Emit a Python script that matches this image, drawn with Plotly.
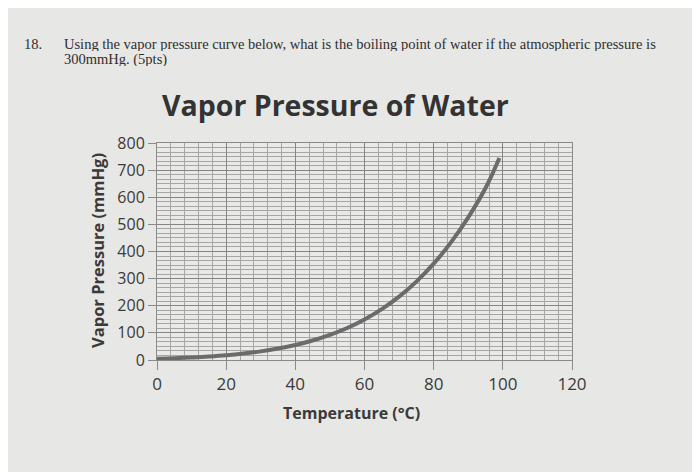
import plotly.graph_objects as go

# values
temps_c = [0, 5, 10, 15, 20, 25, 30, 35, 40, 45, 50, 55, 60, 65, 70, 75, 80, 85, 90, 95, 99]
pressure_mmhg = [4.6, 6.5, 9.2, 12.8, 17.5, 23.8, 31.8, 42.2, 55.3, 71.9, 92.5, 118.0,
                 149.4, 187.5, 233.7, 289.1, 355.1, 433.6, 525.8, 633.9, 745.0]

x_ticks = [0, 20, 40, 60, 80, 100, 120]
y_ticks = [0, 100, 200, 300, 400, 500, 600, 700, 800]

question_num = "18."
question_lines = [
    "Using the vapor pressure curve below, what is the boiling point of water if the atmospheric pressure is",
    "300mmHg. (5pts)",
]

bg = "#e7e7e5"
ink = "#3a3a3a"
sans = "Open Sans, Liberation Sans, Arial, sans-serif"

fig = go.Figure()
fig.add_trace(go.Scatter(
    x=temps_c, y=pressure_mmhg, mode="lines",
    line=dict(color="#6b6b6b", width=4, shape="spline"),
    hoverinfo="skip", showlegend=False,
))

fig.update_xaxes(
    range=[0, 120], tickvals=x_ticks,
    tickfont=dict(family=sans, size=17, color=ink),
    showgrid=True, gridcolor="#858585", gridwidth=1,
    minor=dict(dtick=4, showgrid=True, gridcolor="#a6a6a6", gridwidth=1),
    showline=True, linecolor="#8a8a8a", linewidth=1, mirror=True,
    ticks="outside", ticklen=9, tickcolor="#8a8a8a", zeroline=False,
)
fig.update_yaxes(
    range=[0, 800], tickvals=y_ticks,
    tickfont=dict(family=sans, size=16, color=ink),
    showgrid=True, gridcolor="#858585", gridwidth=1,
    minor=dict(dtick=100 / 6, showgrid=True, gridcolor="#a6a6a6", gridwidth=1),
    showline=True, linecolor="#8a8a8a", linewidth=1, mirror=True,
    ticks="outside", ticklen=8, tickcolor="#8a8a8a", zeroline=False,
)


# reference pixel -> paper (plot area 157..572 x, 143..360 y)
def px(p):
    return (p - 157) / 415


def py(p):
    return (360 - p) / 217


serif = dict(family="Liberation Serif, Times New Roman, serif", size=14.5, color="#2e2e2e")
notes = [
    dict(x=px(22), y=py(44), text=question_num, xanchor="left", height=14, font=serif),
    dict(x=px(62), y=py(44), text=question_lines[0], xanchor="left", height=14, font=serif),
    dict(x=px(62), y=py(59), text=question_lines[1], xanchor="left", height=14, font=serif),
    dict(x=px(335), y=py(105), text="<b>Vapor Pressure of Water</b>", xanchor="center",
         font=dict(family=sans, size=28.5, color="#333333")),
    dict(x=px(351), y=py(413), text="<b>Temperature (°C)</b>", xanchor="center",
         font=dict(family=sans, size=16, color=ink)),
    dict(x=px(97), y=py(251), text="<b>Vapor Pressure (mmHg)</b>", textangle=-90,
         xanchor="center", font=dict(family=sans, size=16.5, color=ink)),
]
for n in notes:
    fig.add_annotation(xref="paper", yref="paper", yanchor="middle", showarrow=False, **n)

# page body adds an 8px offset, so the figure is shifted to land where the reference is
fig.update_layout(
    width=692, height=464,
    margin=dict(l=149, r=128, t=135, b=112),
    paper_bgcolor=bg, plot_bgcolor="#e9e9e7",
)

fig.write_html("out.html")
